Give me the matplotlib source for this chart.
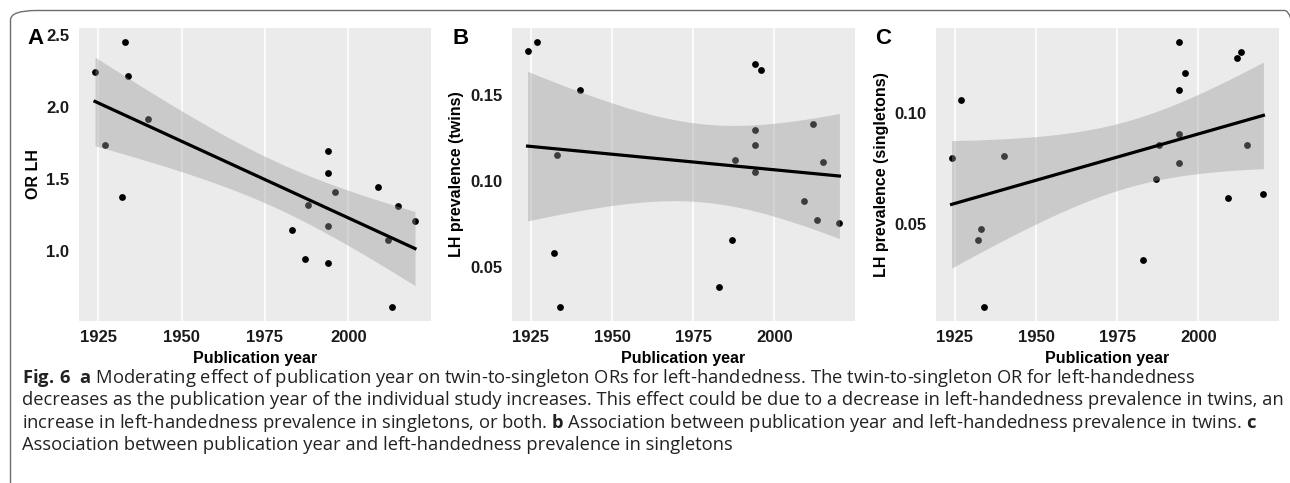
import numpy as np
import matplotlib
matplotlib.use('Agg')
import matplotlib.pyplot as plt
from matplotlib.patches import FancyBboxPatch

# publication years of the 19 studies
years = [1924, 1927, 1932, 1933, 1934, 1940, 1983, 1987, 1988, 1994, 1994,
         1994, 1994, 1996, 2009, 2012, 2013, 2015, 2020]

# A: twin-to-singleton OR for left-handedness
or_lh = [2.245, 1.738, 1.375, 2.454, 2.215, 1.919, 1.144, 0.942, 1.322, 1.697, 1.542,
         1.171, 0.919, 1.412, 1.447, 1.074, 0.609, 1.310, 1.210]

# B: LH prevalence in twins
lh_twins = [0.1761, 0.1814, 0.0580, 0.1150, 0.0264, 0.1530, 0.0382, 0.0658, 0.1124,
            0.1683, 0.1297, 0.1210, 0.1052, 0.1647, 0.0882, 0.1332, 0.0773, 0.1111, 0.0759]

# C: LH prevalence in singletons
lh_single = [0.0794, 0.1056, 0.0425, 0.0474, 0.0122, 0.0806, 0.0335, 0.0700, 0.0854,
             0.1320, 0.1102, 0.0902, 0.0772, 0.1177, 0.0616, 0.1246, 0.1272, 0.0853, 0.0632]

panels = [('A', 'OR LH', or_lh, [1.0, 1.5, 2.0, 2.5], '%.1f'),
          ('B', 'LH prevalence (twins)', lh_twins, [0.05, 0.10, 0.15], '%.2f'),
          ('C', 'LH prevalence (singletons)', lh_single, [0.05, 0.10], '%.2f')]

caption = [
    r"$\mathbf{Fig.\,6}$  $\mathbf{a}$ Moderating effect of publication year on twin-to-singleton ORs for left-handedness. The twin-to-singleton OR for left-handedness",
    "decreases as the publication year of the individual study increases. This effect could be due to a decrease in left-handedness prevalence in twins, an",
    r"increase in left-handedness prevalence in singletons, or both. $\mathbf{b}$ Association between publication year and left-handedness prevalence in twins. $\mathbf{c}$",
    "Association between publication year and left-handedness prevalence in singletons",
]

plt.rcParams['font.family'] = ['Liberation Sans', 'DejaVu Sans']
plt.rcParams['mathtext.fontset'] = 'custom'
plt.rcParams['mathtext.rm'] = 'Open Sans'
plt.rcParams['mathtext.bf'] = 'Open Sans:bold'

W, H = 1290, 483
fig = plt.figure(figsize=(W / 100, H / 100), dpi=100)

# rounded frame
frame = FancyBboxPatch((10.5 / W, -20 / H), (W + 10) / W, (H + 9.5) / H,
                       boxstyle='round,pad=0,rounding_size=0.02', transform=fig.transFigure,
                       fill=False, edgecolor='#6e6e6e', linewidth=1.0)
fig.patches.append(frame)

lefts = [79, 512, 936]
widths = [352, 343, 343]
letter_x = [27, 452, 875]
t975 = 2.1098  # t quantile, df = 17

x = np.array(years, dtype=float)
for (letter, ylab, vals, yt, fmt), left, wd, lx in zip(panels, lefts, widths, letter_x):
    y = np.array(vals)
    ax = fig.add_axes([left / W, (H - 320.7) / H, wd / W, 292.4 / H])
    ax.set_facecolor('#EBEBEB')
    for s in ax.spines.values():
        s.set_visible(False)

    # linear fit + 95% CI like geom_smooth(method = "lm")
    b, a = np.polyfit(x, y, 1)
    xs = np.linspace(x.min(), x.max(), 80)
    ys = a + b * xs
    n = len(x)
    resid = y - (a + b * x)
    s_err = np.sqrt(np.sum(resid ** 2) / (n - 2))
    se = s_err * np.sqrt(1 / n + (xs - x.mean()) ** 2 / np.sum((x - x.mean()) ** 2))

    ax.scatter(x, y, s=24, color='black', linewidths=0, zorder=3)
    ax.fill_between(xs, ys - t975 * se, ys + t975 * se, color='#999999', alpha=0.4,
                    linewidth=0, zorder=4)
    ax.plot(xs, ys, color='black', linewidth=2.3, zorder=5)

    rng = x.max() - x.min()
    ax.set_xlim(x.min() - 0.05 * rng, x.max() + 0.05 * rng)
    yr = y.max() - y.min()
    ax.set_ylim(y.min() - 0.05 * yr, y.max() + 0.05 * yr)

    ax.set_xticks([1925, 1950, 1975, 2000])
    ax.set_yticks(yt)
    ax.set_yticklabels([fmt % v for v in yt])
    ax.grid(axis='x', color='white', linewidth=1.2, zorder=1)
    ax.set_axisbelow(True)
    ax.tick_params(length=0, labelsize=12, pad=7, labelcolor='#1a1a1a')
    for lab in ax.get_xticklabels() + ax.get_yticklabels():
        lab.set_fontweight('bold')
    ax.set_xlabel('Publication year', fontsize=11.5, fontweight='bold', labelpad=4)
    ax.set_ylabel(ylab, fontsize=11.5, fontweight='bold', labelpad=4)

    fig.text(lx / W, 1 - 38 / H, letter, fontsize=16, fontweight='bold',
             ha='left', va='center')

for i, line in enumerate(caption):
    fig.text(22 / W, 1 - (378 + 22.3 * i) / H, line, fontsize=13.2, family='Open Sans',
             color='#222222', ha='left', va='center')

fig.savefig('out.png', dpi=100)
